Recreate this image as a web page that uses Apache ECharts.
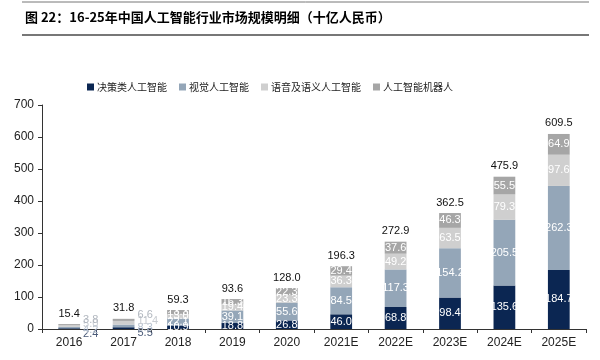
<!DOCTYPE html>
<html><head><meta charset="utf-8">
<script src="https://cdn.jsdelivr.net/npm/echarts@6/dist/echarts.min.js"></script>
<style>html,body{margin:0;padding:0;background:#fff}#c{width:600px;height:360px}</style>
</head><body><div id="c"></div>
<script>
const categories = ['2016','2017','2018','2019','2020','2021E','2022E','2023E','2024E','2025E'];
const seriesNames = ['决策类人工智能','视觉人工智能','语音及语义人工智能','人工智能机器人'];
const decision = [2.4, 5.5, 10.9, 18.8, 26.8, 46.0, 68.8, 98.4, 135.6, 184.7];
const vision   = [4.2, 8.3, 22.1, 39.1, 55.6, 84.5, 117.3, 154.2, 205.5, 262.3];
const speech   = [5.0, 11.4, 13.0, 19.4, 23.3, 36.3, 49.2, 63.5, 79.3, 97.6];
const robot    = [3.8, 6.6, 13.3, 16.3, 22.3, 29.4, 37.6, 46.3, 55.5, 64.9];
const totals   = ['15.4','31.8','59.3','93.6','128.0','196.3','272.9','362.5','475.9','609.5'];
const yTicks = [0,100,200,300,400,500,600,700];

const colors = ['#0b2652','#94a6b8','#cfcfcf','#a6a6a6'];
const values = [decision, vision, speech, robot];
const FONT = 'Arial, "Liberation Sans", "Noto Sans CJK SC", sans-serif';

const outsideOffsets = [[0, 5], [0, 2], [0, -2], [0, -5]];
const outsideColors = ['#4a5a78', '#b7c2d0', '#c8ccd2', '#b0b6be'];

const series = values.map((arr, si) => ({
  name: seriesNames[si],
  type: 'bar',
  stack: 'total',
  barWidth: '40%',
  itemStyle: { color: colors[si] },
  label: {
    show: true, position: 'inside', color: '#fff', fontSize: 11, fontFamily: FONT,
    formatter: p => p.value.toFixed(1)
  },
  data: arr.map((v, i) => i < 2 ? {
    value: v,
    label: { position: 'right', color: outsideColors[si], distance: 3, offset: outsideOffsets[si] }
  } : v)
}));

series.push({
  name: 'total', type: 'bar', stack: 'total', barWidth: '40%',
  itemStyle: { color: 'transparent' },
  label: { show: true, position: 'top', distance: 5, color: '#111', fontSize: 11, fontFamily: FONT,
    formatter: p => totals[p.dataIndex] },
  data: categories.map(() => 0)
});

const chart = echarts.init(document.getElementById('c'), null, { renderer: 'canvas' });
chart.setOption({
  animation: false,
  backgroundColor: '#fff',
  graphic: [
    { type: 'line', shape: { x1: 22, y1: 2, x2: 589, y2: 2 }, style: { stroke: '#777', lineWidth: 1 } },
    { type: 'line', shape: { x1: 22, y1: 35, x2: 589, y2: 35 }, style: { stroke: '#777', lineWidth: 2 } },
    { type: 'text', left: 25, top: 11, style: { text: '图 22：16-25年中国人工智能行业市场规模明细（十亿人民币）',
      font: 'bold 13px "Noto Sans CJK SC", sans-serif', fill: '#000' } }
  ],
  legend: {
    data: seriesNames, left: 82, top: 77, itemWidth: 7, itemHeight: 7, itemGap: 12,
    icon: 'rect', textStyle: { fontSize: 10, color: '#222', fontFamily: '"Noto Sans CJK SC", sans-serif', padding: [0,0,0,-2] }
  },
  grid: { left: 42, right: 14, top: 105, bottom: 31, containLabel: false },
  xAxis: {
    type: 'category', data: categories,
    axisLine: { lineStyle: { color: '#333' } },
    axisTick: { show: true, alignWithLabel: false, length: 4, lineStyle: { color: '#333' } },
    axisLabel: { color: '#222', fontSize: 12, fontFamily: FONT, margin: 8 }
  },
  yAxis: {
    type: 'value', min: yTicks[0], max: yTicks[yTicks.length - 1], interval: 100,
    axisLine: { show: true, lineStyle: { color: '#333' } },
    axisTick: { show: true, length: 4, lineStyle: { color: '#333' } },
    splitLine: { show: false },
    axisLabel: { color: '#222', fontSize: 12, fontFamily: FONT, margin: 8 }
  },
  series
});
</script></body></html>
